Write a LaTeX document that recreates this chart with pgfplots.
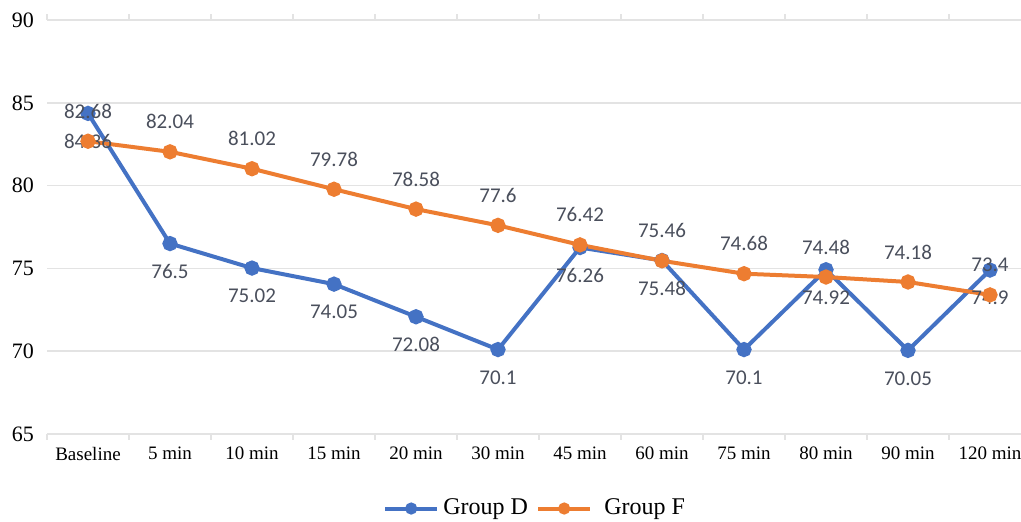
\documentclass[border=0pt]{standalone}
\usepackage{pgfplots}
\pgfplotsset{compat=1.18}
\usepackage{fontspec}
\setmainfont{Liberation Serif}
\newfontfamily\labelfont{Carlito}
\definecolor{blueD}{HTML}{4472C4}
\definecolor{orangeF}{HTML}{ED7D31}
\definecolor{lblcol}{HTML}{4A4F5C}
\definecolor{gridcol}{HTML}{E3E3E3}
\begin{document}
\begin{tikzpicture}
\begin{axis}[
  scale only axis,
  width=492pt, height=207pt,
  xmin=-0.5, xmax=11.5,
  ymin=65, ymax=90,
  ytick={65,70,75,80,85,90},
  xtick={0,...,11},
  xticklabels={Baseline,5 min,10 min,15 min,20 min,30 min,45 min,60 min,75 min,80 min,90 min,120 min},
  minor xtick={-0.5,0.5,...,11.5},
  major tick length=0pt,
  minor tick length=3pt,
  tick align=outside,
  minor tick style={gridcol, line width=0.8pt},
  axis line style={draw=none},
  ymajorgrids,
  grid style={gridcol, line width=0.8pt},
  /pgf/number format/assume math mode=true,
  tick label style={font=\fontsize{9.5}{11}\selectfont},
  yticklabel style={font=\fontsize{11}{13}\selectfont, xshift=-3pt},
  xticklabel style={yshift=-3pt},
  clip=false,
  nodes near coords={\pgfmathprintnumber[assume math mode=true]{\pgfplotspointmeta}},
  legend style={at={(0.497,-0.18)}, anchor=center, draw=none, legend columns=2,
    font=\fontsize{12}{14}\selectfont, /tikz/every odd column/.append style={column sep=0pt},
    /tikz/every even column/.append style={column sep=2pt}},
  legend image code/.code={\draw[#1, mark=none] (0cm,0cm) -- (0.92cm,0cm);
    \draw[#1, only marks, mark size=2pt] plot coordinates {(0.46cm,0cm)};},
]
\addplot[blueD, line width=2pt, mark=*, mark size=2.8pt, mark options={solid},
  every node near coord/.append style={font=\labelfont\fontsize{10.5}{12}\selectfont, text=lblcol, anchor=center, yshift=-14pt}]
  coordinates {(0,84.36) (1,76.5) (2,75.02) (3,74.05) (4,72.08) (5,70.1) (6,76.26) (7,75.48) (8,70.1) (9,74.92) (10,70.05) (11,74.9)};
\addlegendentry{Group D}
\addplot[orangeF, line width=2pt, mark=*, mark size=2.8pt, mark options={solid},
  every node near coord/.append style={font=\labelfont\fontsize{10.5}{12}\selectfont, text=lblcol, anchor=center, yshift=15pt}]
  coordinates {(0,82.68) (1,82.04) (2,81.02) (3,79.78) (4,78.58) (5,77.6) (6,76.42) (7,75.46) (8,74.68) (9,74.48) (10,74.18) (11,73.4)};
\addlegendentry{\hspace{4pt}Group F}
\end{axis}
\pgfresetboundingbox
\useasboundingbox (-23.5pt,-43.5pt) rectangle (487pt,217pt);
\end{tikzpicture}
\end{document}
